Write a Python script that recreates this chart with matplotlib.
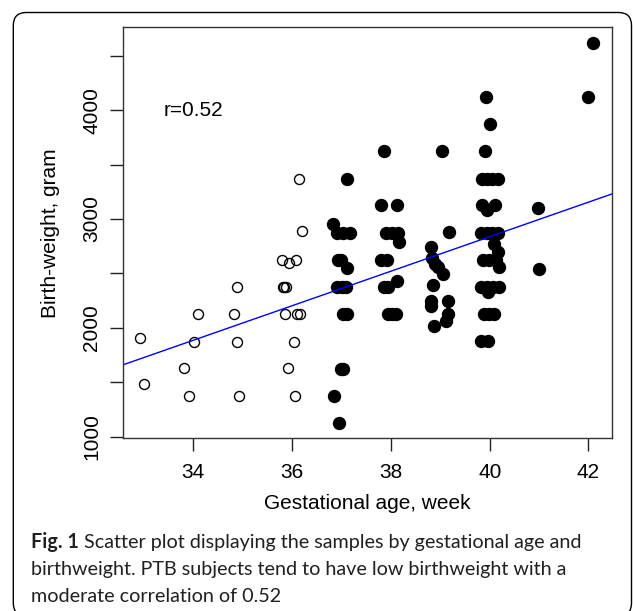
import numpy as np
import matplotlib
matplotlib.use('Agg')
import matplotlib.pyplot as plt
from matplotlib.patches import FancyBboxPatch
from matplotlib.transforms import IdentityTransform

# open circles: PTB subjects (gestational age in weeks, birth weight in g)
ptb_age = [32.93, 33.01, 34.09, 34.02, 33.81, 33.92, 34.89, 34.82, 34.88, 34.92,
           36.20, 36.14, 35.79, 35.94, 36.08, 35.81, 35.84, 35.87,
           35.86, 36.09, 36.16, 36.04, 35.91, 36.06]
ptb_weight = [1909, 1481, 2124, 1873, 1628, 1377, 2372, 2124, 1873, 1377,
              2892, 3370, 2623, 2600, 2623, 2372, 2372, 2372,
              2124, 2124, 2124, 1873, 1628, 1377]

# filled circles: term subjects
term_age = [37.12, 36.82, 36.90, 37.04, 37.18, 36.92, 36.99, 37.12,
            36.90, 37.00, 37.10, 37.03, 37.12, 36.98, 37.02, 36.84, 36.94,
            37.86, 37.80, 38.12, 37.90, 38.02, 38.14, 38.17, 37.80, 37.92,
            37.87, 37.95, 38.12, 37.94, 38.02, 38.10,
            39.04, 39.18, 38.81, 38.84, 38.90, 38.95, 39.06, 38.85, 38.82,
            38.82, 39.15, 39.15, 39.11, 38.88,
            39.93, 40.00, 39.91, 39.84, 39.95, 40.05, 40.16, 39.84, 39.94, 40.11,
            39.83, 39.94, 40.05, 40.16, 40.09, 40.17, 39.86, 39.99, 40.12, 40.18,
            39.83, 39.95, 40.07, 40.19, 39.96, 39.88, 39.98, 40.08, 39.83, 39.96,
            40.97, 41.00, 41.99, 42.10]
term_weight = [3370, 2954, 2875, 2875, 2875, 2625, 2625, 2547,
               2375, 2375, 2375, 2125, 2125, 1625, 1625, 1377, 1125,
               3622, 3126, 3126, 2875, 2875, 2875, 2791, 2625, 2625,
               2375, 2375, 2430, 2125, 2125, 2125,
               3622, 2878, 2745, 2640, 2590, 2555, 2495, 2395, 2250,
               2200, 2250, 2125, 2060, 2020,
               4121, 3870, 3622, 3370, 3370, 3370, 3370, 3126, 3082, 3126,
               2875, 2875, 2875, 2875, 2770, 2700, 2625, 2625, 2625, 2562,
               2375, 2375, 2375, 2375, 2332, 2125, 2125, 2125, 1875, 1875,
               3098, 2538, 4121, 4620]

# regression line
fit_slope = 158.6
fit_intercept = -3506.6

xticks = [34, 36, 38, 40, 42]
yticks = [1000, 1500, 2000, 2500, 3000, 3500, 4000, 4500]
ytick_labels = ['1000', '', '2000', '', '3000', '', '4000', '']

W, H = 633, 611
fig = plt.figure(figsize=(W / 100, H / 100), dpi=100)
ax = fig.add_axes([122.7 / W, 1 - 438.3 / H, (611.7 - 122.7) / W, (438.3 - 27.3) / H])

ax.plot(ptb_age, ptb_weight, 'o', ms=7.2, mfc='none', mec='black', mew=1.0, ls='none')
ax.plot(term_age, term_weight, 'o', ms=8.6, color='black', ls='none')

xl = np.array([32.0, 43.0])
ax.plot(xl, fit_intercept + fit_slope * xl, color='blue', lw=1.0)

ax.set_xlim(32.57, 42.47)
ax.set_ylim(985, 4761)

ax.text(34, 4000, 'r=0.52', ha='center', va='center', fontsize=15, family='Liberation Sans')

ax.set_xticks(xticks)
ax.set_xticklabels([str(t) for t in xticks], fontsize=15, family='Liberation Sans')
ax.set_yticks(yticks)
ax.set_yticklabels(ytick_labels, fontsize=15, family='Liberation Sans',
                   rotation=90, va='center')
ax.tick_params(axis='both', direction='out', length=9.6, width=1.0, color='#222222')
ax.tick_params(axis='x', pad=8)
ax.tick_params(axis='y', pad=6)
for s in ax.spines.values():
    s.set_linewidth(1.0)
    s.set_color('#333333')

ax.set_xlabel('Gestational age, week', fontsize=15, family='Liberation Sans', labelpad=9)
ax.set_ylabel('Birth-weight, gram', fontsize=15, family='Liberation Sans', labelpad=16)

# rounded frame around the figure (pixel coordinates)
frame = FancyBboxPatch((13.3, -5), 631.5 - 13.3, H - 12.5 + 5,
                       boxstyle='round,pad=0,rounding_size=13',
                       transform=IdentityTransform(), fill=False,
                       ec='black', lw=1.0)
fig.patches.append(frame)

# caption
cap_font = 'Lato'
cap_size = 14.2
x0 = 30.7 / W
t = fig.text(x0, 1 - 548.4 / H, 'Fig. 1', fontsize=cap_size, family=cap_font,
             weight='bold', color='#231f20')
fig.canvas.draw()
bb = t.get_window_extent()
fig.text(bb.x1 / W + 5 / W, 1 - 548.4 / H,
         'Scatter plot displaying the samples by gestational age and',
         fontsize=cap_size, family=cap_font, color='#231f20')
fig.text(x0, 1 - 575.0 / H,
         'birthweight. PTB subjects tend to have low birthweight with a',
         fontsize=cap_size, family=cap_font, color='#231f20')
fig.text(x0, 1 - 601.5 / H, 'moderate correlation of 0.52',
         fontsize=cap_size, family=cap_font, color='#231f20')

fig.savefig('out.png', dpi=100)
